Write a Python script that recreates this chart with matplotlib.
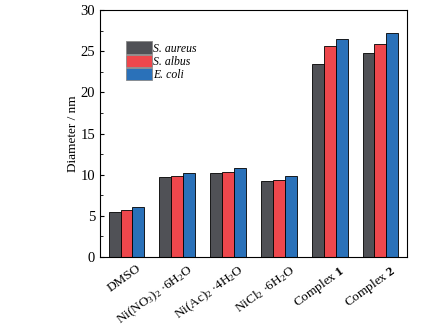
import numpy as np
import matplotlib
matplotlib.use('Agg')
import matplotlib.pyplot as plt
from matplotlib.transforms import ScaledTranslation

plt.rcParams['font.family'] = ['Liberation Serif', 'DejaVu Serif']
plt.rcParams['mathtext.fontset'] = 'custom'
plt.rcParams['mathtext.rm'] = 'Liberation Serif'
plt.rcParams['mathtext.it'] = 'Liberation Serif:italic'
plt.rcParams['mathtext.bf'] = 'Liberation Serif:bold'

labels = ['DMSO', r'Ni(NO$_3$)$_2$ $\cdot$6H$_2$O', r'Ni(Ac)$_2$ $\cdot$4H$_2$O',
          r'NiCl$_2$ $\cdot$6H$_2$O', r'Complex $\mathbf{1}$', r'Complex $\mathbf{2}$']
aureus = [5.5, 9.7, 10.2, 9.2, 23.5, 24.8]
albus = [5.7, 9.9, 10.3, 9.3, 25.6, 25.9]
ecoli = [6.1, 10.2, 10.8, 9.8, 26.5, 27.2]
names = ['S. aureus', 'S. albus', 'E. coli']
colors = ['#505156', '#ee474c', '#2a71b9']

fig = plt.figure(figsize=(4.26, 3.33), dpi=100)
ax = fig.add_axes([0.235, 0.228, 0.72, 0.742])

x = np.arange(len(labels))
w = 0.235
for i, (vals, nm, c) in enumerate(zip([aureus, albus, ecoli], names, colors)):
    ax.bar(x + (i - 1) * w, vals, w, color=c, edgecolor='black', linewidth=0.6, label=nm)

ax.set_xlim(-0.52, 5.52)
ax.set_ylim(0, 30)
ax.set_yticks([0, 5, 10, 15, 20, 25, 30])
ax.set_yticks(np.arange(2.5, 30, 5), minor=True)
ax.tick_params(axis='y', which='both', direction='in', labelsize=10.5)
ax.tick_params(axis='y', which='major', length=3)
ax.tick_params(axis='y', which='minor', length=2)
ax.set_xticks(x)
ax.set_xticklabels(labels, rotation=36, ha='right', rotation_mode='anchor', fontsize=9.5)
ax.tick_params(axis='x', length=0, pad=4)
shift = ScaledTranslation(7 / 72, 0, fig.dpi_scale_trans)
for t in ax.get_xticklabels():
    t.set_transform(t.get_transform() + shift)
ax.set_ylabel('Diameter / nm', fontsize=9.5, labelpad=1)

leg = ax.legend(loc='upper left', bbox_to_anchor=(0.083, 0.873), frameon=False,
                prop={'style': 'italic', 'size': 8.5}, handlelength=2.2, handleheight=1.25,
                labelspacing=0.0, handletextpad=0.15, borderaxespad=0, borderpad=0)
for p in leg.get_patches():
    p.set_edgecolor('#888888')

fig.savefig('out.png', dpi=100)
